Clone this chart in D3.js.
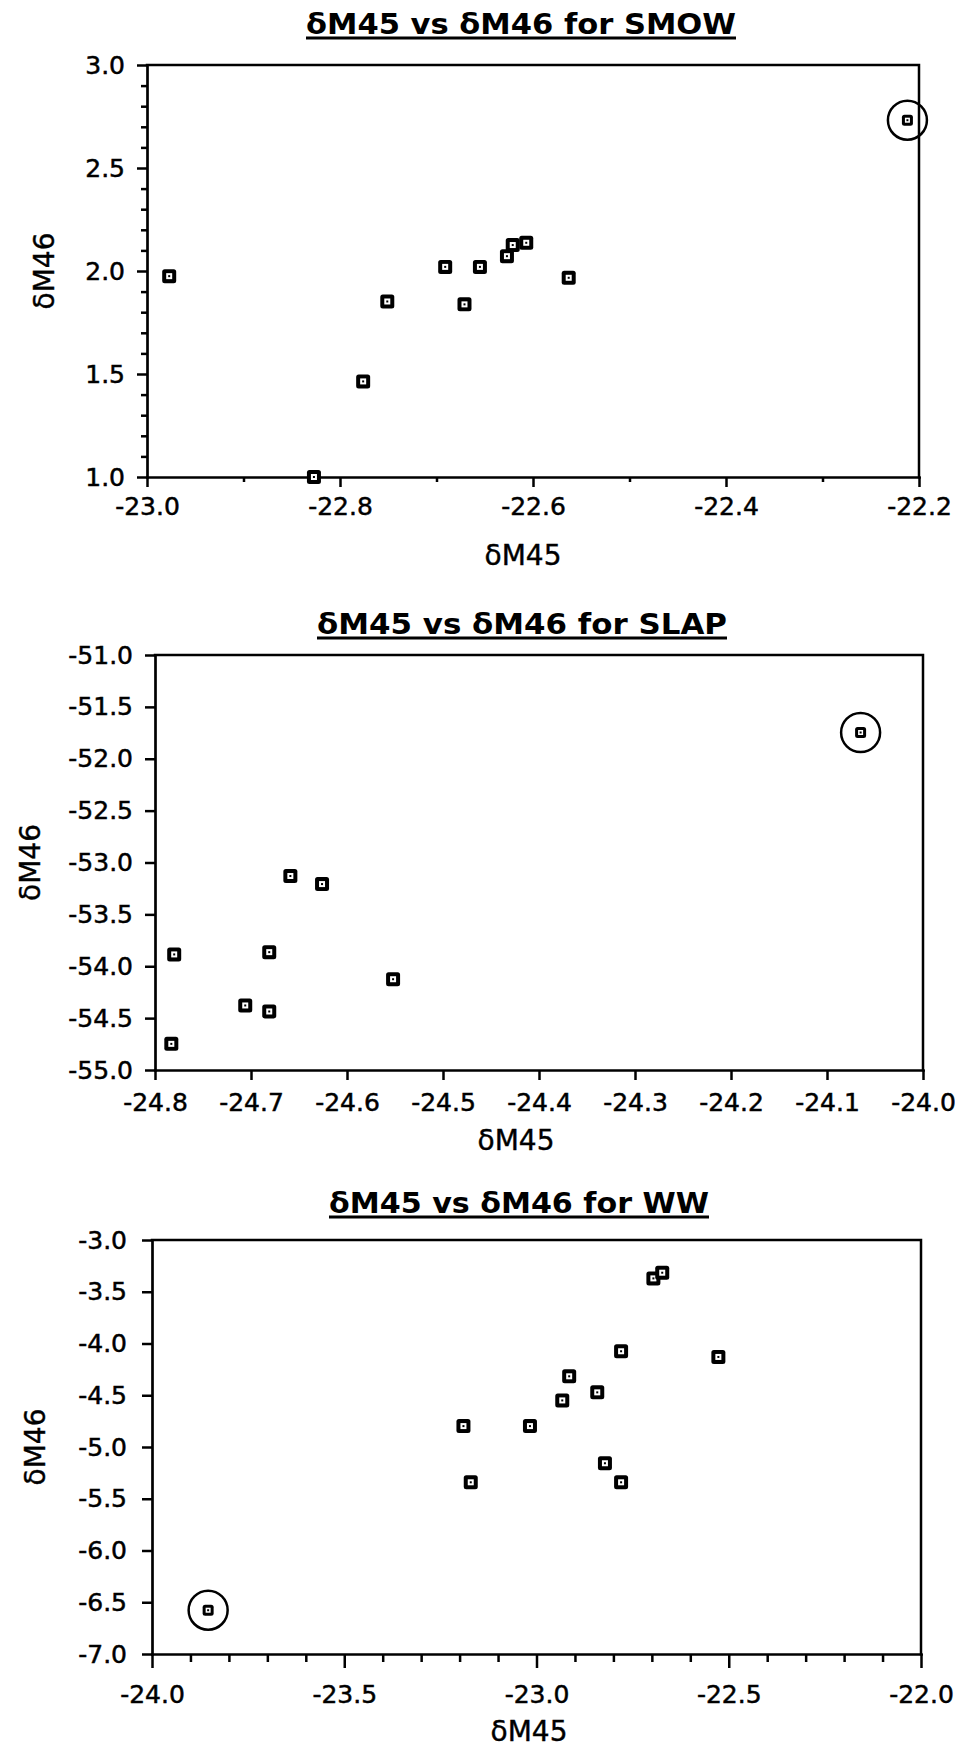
<!DOCTYPE html>
<html>
<head>
<meta charset="utf-8">
<script src="https://cdn.jsdelivr.net/npm/d3@7"></script>
<style>
  html, body { margin: 0; padding: 0; background: #fff; }
  svg { display: block; }
  .tick text { font-family: "DejaVu Sans", sans-serif; font-size: 25px; fill: #000; stroke: #000; stroke-width: 0.5px; }
  .ttl { font-family: "DejaVu Sans", sans-serif; font-size: 28px; fill: #000; stroke: #000; stroke-width: 0.4px; }
</style>
</head>
<body>
<svg id="chart" width="955" height="1748"></svg>
<script>
// ---- SMOW ----
const smowM45 = [-22.977, -22.827, -22.776, -22.751, -22.691, -22.671, -22.655, -22.627, -22.621, -22.607, -22.563, -22.212];
const smowM46 = [1.975, 1.0, 1.464, 1.852, 2.020, 1.838, 2.020, 2.072, 2.126, 2.137, 1.967, 2.732];
const smowCircled = [11];
const smowXTicks = [-23.0, -22.8, -22.6, -22.4, -22.2];
const smowYTicks = [1.0, 1.5, 2.0, 2.5, 3.0];

// ---- SLAP ----
const slapM45 = [-24.659, -24.626, -24.780, -24.681, -24.552, -24.706, -24.681, -24.783, -24.065];
const slapM46 = [-53.130, -53.208, -53.886, -53.864, -54.125, -54.378, -54.436, -54.748, -51.747];
const slapCircled = [8];
const slapXTicks = [-24.8, -24.7, -24.6, -24.5, -24.4, -24.3, -24.2, -24.1, -24.0];
const slapYTicks = [-55.0, -54.5, -54.0, -53.5, -53.0, -52.5, -52.0, -51.5, -51.0];

// ---- WW ----
const wwM45 = [-23.854, -22.696, -22.673, -22.780, -22.527, -22.915, -22.842, -22.933, -23.190, -23.017, -22.822, -23.171, -22.780];
const wwM46 = [-6.577, -3.371, -3.316, -4.075, -4.130, -4.317, -4.472, -4.550, -4.798, -4.798, -5.157, -5.341, -5.341];
const wwCircled = [0];
const wwXTicks = [-24.0, -23.5, -23.0, -22.5, -22.0];
const wwYTicks = [-7.0, -6.5, -6.0, -5.5, -5.0, -4.5, -4.0, -3.5, -3.0];

const titles = ["δM45 vs δM46 for SMOW", "δM45 vs δM46 for SLAP", "δM45 vs δM46 for WW"];
const xTitle = "δM45";
const yTitle = "δM46";

const svg = d3.select("#chart");
const fmt = d => d.toFixed(1);

// minor ticks: every 0.1 between the labelled ones
function minors(domain, majors) {
  const lo = Math.round(domain[0] * 10), hi = Math.round(domain[1] * 10);
  const majorSet = new Set(majors.map(v => Math.round(v * 10)));
  return d3.range(lo, hi + 1).filter(k => !majorSet.has(k)).map(k => k / 10);
}

function drawPanel(p) {
  const g = svg.append("g");
  const x = d3.scaleLinear().domain(p.xDomain).range([p.left, p.right]);
  const y = d3.scaleLinear().domain(p.yDomain).range([p.bottom, p.top]);

  // title with underline
  g.append("text")
    .attr("x", p.titleX[0]).attr("y", p.titleY)
    .attr("textLength", p.titleX[1] - p.titleX[0])
    .attr("lengthAdjust", "spacingAndGlyphs")
    .style("font-family", "'DejaVu Sans', sans-serif")
    .style("font-weight", "bold")
    .style("font-size", "29px")
    .text(p.title);
  g.append("line")
    .attr("x1", p.titleX[0]).attr("x2", p.titleX[1])
    .attr("y1", p.titleY + 4).attr("y2", p.titleY + 4)
    .attr("stroke", "#000").attr("stroke-width", 3);

  // frame top and right
  g.append("path")
    .attr("d", `M${x.range()[0]},${y.range()[1]}H${x.range()[1]}V${y.range()[0]}`)
    .attr("fill", "none").attr("stroke", "#000").attr("stroke-width", 2.5)
    .attr("stroke-linecap", "square");

  // minor ticks
  if (p.xMinor) {
    g.append("g").attr("transform", `translate(0,${p.bottom})`)
      .call(d3.axisBottom(x).tickValues(minors(p.xDomain, p.xTicks)).tickSize(p.xMinorSize).tickFormat("").tickSizeOuter(0))
      .call(a => a.select(".domain").remove())
      .call(a => a.selectAll("line").attr("stroke-width", 2.5));
  }
  if (p.yMinor) {
    g.append("g").attr("transform", `translate(${p.left},0)`)
      .call(d3.axisLeft(y).tickValues(minors(p.yDomain, p.yTicks)).tickSize(6).tickFormat("").tickSizeOuter(0))
      .call(a => a.select(".domain").remove())
      .call(a => a.selectAll("line").attr("stroke-width", 2.5));
  }

  // main axes
  const xa = g.append("g").attr("transform", `translate(0,${p.bottom})`)
    .call(d3.axisBottom(x).tickValues(p.xTicks).tickFormat(fmt).tickSize(p.xTickSize).tickPadding(p.xPad).tickSizeOuter(0));
  const ya = g.append("g").attr("transform", `translate(${p.left},0)`)
    .call(d3.axisLeft(y).tickValues(p.yTicks).tickFormat(fmt).tickSize(10).tickPadding(p.yPad).tickSizeOuter(0));
  [xa, ya].forEach(a => {
    a.select(".domain").attr("stroke-width", 2.7).attr("stroke-linecap", "square");
    a.selectAll(".tick line").attr("stroke-width", 2.5);
    a.selectAll(".tick text").attr("font-size", null).attr("font-family", null);
  });

  // axis titles
  g.append("text").attr("class", "ttl")
    .attr("x", p.xTitleX).attr("y", p.xTitleY)
    .attr("text-anchor", "middle")
    .text(xTitle);
  g.append("text").attr("class", "ttl")
    .attr("transform", `translate(${p.yTitleX},${(p.top + p.bottom) / 2}) rotate(-90)`)
    .attr("text-anchor", "middle").attr("dy", "0.35em")
    .text(yTitle);

  // points
  const pts = p.xs.map((v, i) => ({ x: v, y: p.ys[i], circled: p.circled.includes(i) }));
  const m = g.selectAll("g.pt").data(pts).join("g")
    .attr("class", "pt")
    .attr("transform", d => `translate(${x(d.x)},${y(d.y)})`);
  m.append("rect")
    .attr("x", d => d.circled ? -5.5 : -7).attr("y", d => d.circled ? -5.5 : -7)
    .attr("width", d => d.circled ? 11 : 14).attr("height", d => d.circled ? 11 : 14)
    .attr("rx", 2.5).attr("fill", "#000");
  m.append("rect")
    .attr("x", d => d.circled ? -2.5 : -3).attr("y", d => d.circled ? -2.5 : -3)
    .attr("width", d => d.circled ? 5 : 6).attr("height", d => d.circled ? 5 : 6)
    .attr("fill", "#fff");
  m.append("rect").attr("x", -1).attr("y", -1).attr("width", 2).attr("height", 2).attr("fill", "#000");
  m.filter(d => d.circled).append("circle")
    .attr("r", 19.5).attr("fill", "none").attr("stroke", "#000").attr("stroke-width", 2.5);
}

drawPanel({
  title: titles[0], titleX: [306, 736], titleY: 34,
  left: 147, right: 919, top: 65, bottom: 477,
  xDomain: [-23.0, -22.2], yDomain: [1.0, 3.0],
  xTicks: smowXTicks, yTicks: smowYTicks,
  xMinor: true, yMinor: true, xMinorSize: 5, xTickSize: 10, xPad: 10, yPad: 12,
  xTitleX: 523, xTitleY: 565, yTitleX: 44,
  xs: smowM45, ys: smowM46, circled: smowCircled
});

drawPanel({
  title: titles[1], titleX: [317, 727], titleY: 634,
  left: 155, right: 923, top: 655, bottom: 1070,
  xDomain: [-24.8, -24.0], yDomain: [-55.0, -51.0],
  xTicks: slapXTicks, yTicks: slapYTicks,
  xMinor: false, yMinor: false, xTickSize: 10, xPad: 13, yPad: 12,
  xTitleX: 516, xTitleY: 1150, yTitleX: 30,
  xs: slapM45, ys: slapM46, circled: slapCircled
});

drawPanel({
  title: titles[2], titleX: [329, 709], titleY: 1213,
  left: 152, right: 921, top: 1240, bottom: 1654,
  xDomain: [-24.0, -22.0], yDomain: [-7.0, -3.0],
  xTicks: wwXTicks, yTicks: wwYTicks,
  xMinor: true, yMinor: false, xMinorSize: 8, xTickSize: 14, xPad: 17, yPad: 15,
  xTitleX: 529, xTitleY: 1741, yTitleX: 35,
  xs: wwM45, ys: wwM46, circled: wwCircled
});
</script>
</body>
</html>
